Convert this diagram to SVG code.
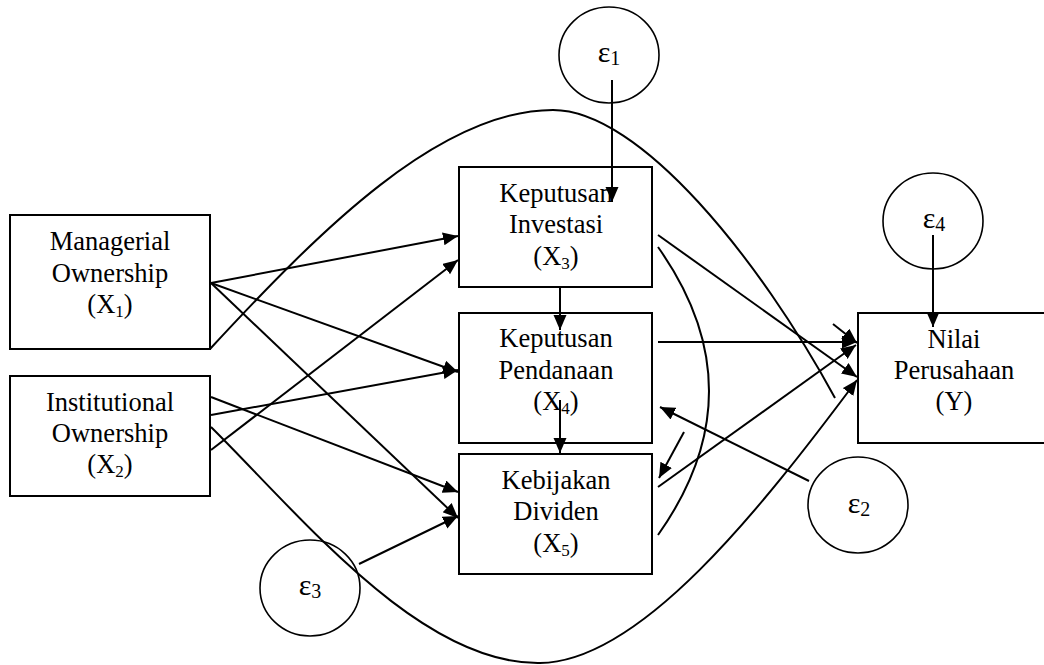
<svg xmlns="http://www.w3.org/2000/svg" width="1044" height="665" viewBox="0 0 1044 665">
  <style>
    .box { fill: none; stroke: #000; stroke-width: 2; }
    .err { fill: none; stroke: #000; stroke-width: 1.6; }
    .lbl { font-family: "Liberation Serif", "Times New Roman", serif; font-size: 26.5px; fill: #000; text-anchor: middle; }
    .sub { font-size: 17px; }
    .eps { font-family: "Liberation Serif", "Times New Roman", serif; font-size: 30px; fill: #000; text-anchor: middle; }
    .eps .sub { font-size: 20px; }
    .ln { fill: none; stroke: #000; stroke-width: 2; }
    .arr { marker-end: url(#head); }
  </style>
  <defs>
    <marker id="head" markerUnits="userSpaceOnUse" markerWidth="18" markerHeight="14" refX="15" refY="6.5" orient="auto">
      <path d="M0,0 L15,6.5 L0,13 z" fill="#000"/>
    </marker>
  </defs>
  <rect width="1044" height="665" fill="#fff"/>

  <!-- connectors -->
  <g id="connectors">
    <!-- long arc over the middle column -->
    <path class="ln" d="M210,349 C320,230 440,110 553,110 C640,110 760,260 835,398"/>
    <!-- inner bracket arc -->
    <path class="ln" d="M658,247 Q760,391 658,535"/>
    <!-- long arc under the middle column -->
    <path class="ln arr" d="M211,427 C300,515 420,665 540,663 C640,662 760,510 857,380"/>

    <line class="ln arr" x1="612" y1="80" x2="612" y2="202"/>
    <line class="ln arr" x1="560" y1="287" x2="560" y2="330"/>
    <line class="ln arr" x1="560" y1="400" x2="560" y2="453"/>
    <line class="ln arr" x1="933" y1="235" x2="933" y2="327"/>

    <line class="ln arr" x1="211" y1="283" x2="458" y2="236"/>
    <line class="ln arr" x1="211" y1="283" x2="458" y2="372"/>
    <line class="ln arr" x1="211" y1="283" x2="458" y2="518"/>
    <line class="ln arr" x1="211" y1="415" x2="458" y2="370"/>
    <line class="ln arr" x1="211" y1="397" x2="458" y2="492"/>
    <line class="ln arr" x1="211" y1="450" x2="458" y2="260"/>
    <line class="ln arr" x1="359" y1="564" x2="458" y2="516"/>

    <line class="ln arr" x1="658" y1="342" x2="857" y2="342"/>
    <line class="ln arr" x1="658" y1="487" x2="856" y2="345"/>
    <line class="ln arr" x1="658" y1="235" x2="857" y2="377"/>
    <line class="ln arr" x1="833" y1="324" x2="857" y2="343"/>
    <line class="ln arr" x1="809" y1="481" x2="660" y2="407"/>
    <line class="ln arr" x1="684" y1="432" x2="659" y2="478"/>
  </g>

  <g id="x1">
    <rect class="box" x="10" y="215" width="200" height="134"/>
    <text class="lbl" x="110" y="250">Managerial</text>
    <text class="lbl" x="110" y="282">Ownership</text>
    <text class="lbl" x="110" y="313">(X<tspan class="sub" dy="4">1</tspan><tspan dy="-4">)</tspan></text>
  </g>

  <g id="x2">
    <rect class="box" x="10" y="376" width="200" height="120"/>
    <text class="lbl" x="110" y="411">Institutional</text>
    <text class="lbl" x="110" y="442">Ownership</text>
    <text class="lbl" x="110" y="473">(X<tspan class="sub" dy="4">2</tspan><tspan dy="-4">)</tspan></text>
  </g>

  <g id="x3">
    <rect class="box" x="459" y="167" width="193" height="120"/>
    <text class="lbl" x="556" y="202">Keputusan</text>
    <text class="lbl" x="556" y="233">Investasi</text>
    <text class="lbl" x="556" y="265">(X<tspan class="sub" dy="4">3</tspan><tspan dy="-4">)</tspan></text>
  </g>

  <g id="x4">
    <rect class="box" x="459" y="313" width="193" height="130"/>
    <text class="lbl" x="556" y="347">Keputusan</text>
    <text class="lbl" x="556" y="379">Pendanaan</text>
    <text class="lbl" x="556" y="410">(X<tspan class="sub" dy="4">4</tspan><tspan dy="-4">)</tspan></text>
  </g>

  <g id="x5">
    <rect class="box" x="459" y="454" width="193" height="120"/>
    <text class="lbl" x="556" y="489">Kebijakan</text>
    <text class="lbl" x="556" y="520">Dividen</text>
    <text class="lbl" x="556" y="552">(X<tspan class="sub" dy="4">5</tspan><tspan dy="-4">)</tspan></text>
  </g>

  <g id="y">
    <rect class="box" x="858" y="313" width="194" height="130"/>
    <text class="lbl" x="954" y="348">Nilai</text>
    <text class="lbl" x="954" y="379">Perusahaan</text>
    <text class="lbl" x="954" y="410">(Y)</text>
  </g>

  <g id="e1">
    <ellipse class="err" cx="609" cy="55" rx="50" ry="48"/>
    <text class="eps" x="609" y="62">ε<tspan class="sub" dy="3">1</tspan></text>
  </g>
  <g id="e2">
    <ellipse class="err" cx="858" cy="505" rx="50" ry="48"/>
    <text class="eps" x="859" y="513">ε<tspan class="sub" dy="3">2</tspan></text>
  </g>
  <g id="e3">
    <ellipse class="err" cx="310" cy="588" rx="50" ry="48"/>
    <text class="eps" x="310" y="595">ε<tspan class="sub" dy="3">3</tspan></text>
  </g>
  <g id="e4">
    <ellipse class="err" cx="933" cy="221" rx="50" ry="48"/>
    <text class="eps" x="934" y="228">ε<tspan class="sub" dy="3">4</tspan></text>
  </g>
</svg>
